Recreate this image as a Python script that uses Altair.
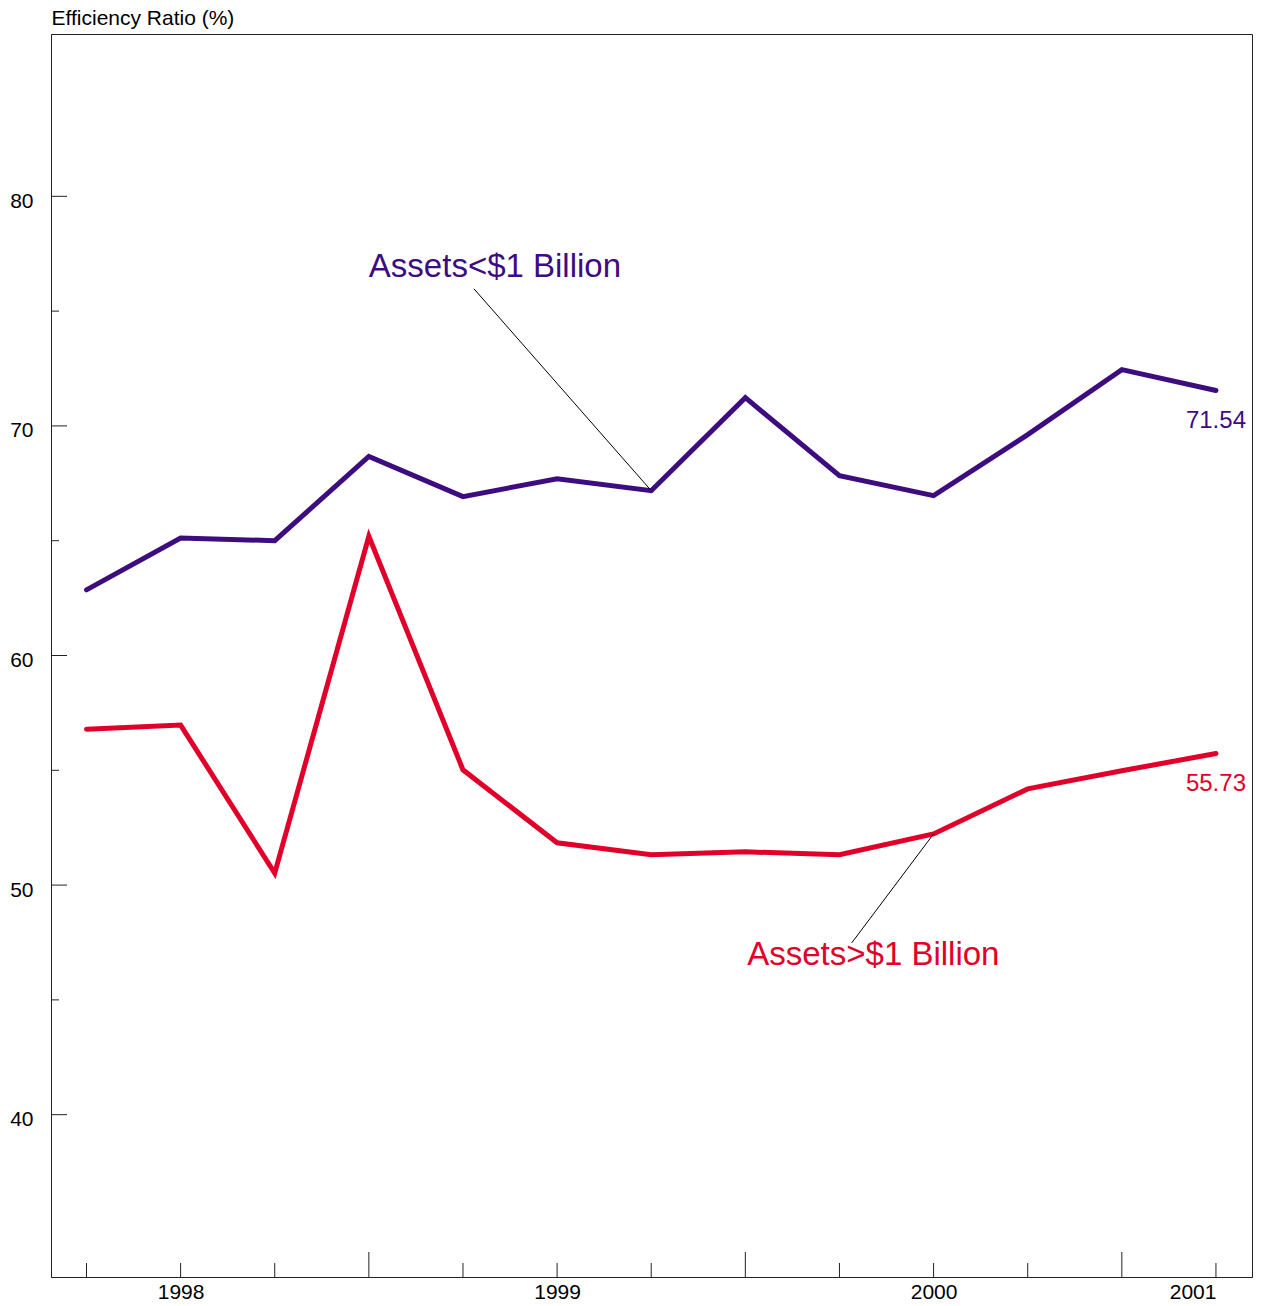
import altair as alt
import pandas as pd

# ---- data ----
quarters = list(range(13))  # quarterly positions
small_banks = [62.86, 65.12, 65.00, 68.67, 66.92, 67.70, 67.18, 71.23, 67.83, 66.96, 69.62, 72.45, 71.54]
large_banks = [56.79, 56.97, 50.52, 65.19, 55.02, 51.84, 51.32, 51.45, 51.32, 52.23, 54.19, 54.98, 55.73]
series_names = ["Assets<$1 Billion", "Assets>$1 Billion"]
series_colors = ["#3d0c7e", "#e0002a"]

year_tick_pos = [1, 5, 9, 12]
year_labels = ["1998", "1999", "2000", "2001"]
short_tick_pos = [0, 1, 2, 4, 5, 6, 8, 9, 10, 12]
long_tick_pos = [3, 7, 11]
y_major = [40, 50, 60, 70, 80]
y_minor = [45, 55, 65, 75]

# annotation anchors (label position and leader line ends)
ann_text = ["Assets<$1 Billion", "Assets>$1 Billion"]
ann_x = [3, 7.02]
ann_y = [76.49, 46.52]
lead_x1 = [4.117, 8.13]
lead_y1 = [75.97, 47.48]
lead_x2 = [6, 9]
lead_y2 = [67.18, 52.23]

W, H = 1201, 1243
XD = [-0.377, 12.383]
YD = [32.93, 87.07]

rows = []
for q, a, b in zip(quarters, small_banks, large_banks):
    rows.append({"q": q, "v": a, "s": series_names[0]})
    rows.append({"q": q, "v": b, "s": series_names[1]})
df = pd.DataFrame(rows)

xs = alt.Scale(domain=XD, nice=False, zero=False)
ys = alt.Scale(domain=YD, nice=False, zero=False)
cs = alt.Scale(domain=series_names, range=series_colors)

label_map = "{" + ",".join(f"'{p}':'{l}'" for p, l in zip(year_tick_pos, year_labels)) + "}"

lines = alt.Chart(df).mark_line(strokeWidth=5, strokeCap="round", strokeJoin="miter").encode(
    x=alt.X("q:Q", scale=xs, axis=alt.Axis(
        values=year_tick_pos, labelExpr=f"{label_map}[datum.value]", title=None,
        ticks=False, tickSize=0, grid=False, labelPadding=4, labelFontSize=21,
        labelColor="#000", domainColor="#222", labelBaseline="top",
        labelAlign={"expr": "datum.value == 12 ? 'right' : 'center'"})),
    y=alt.Y("v:Q", scale=ys, axis=alt.Axis(
        values=y_major, title="Efficiency Ratio (%)", ticks=False, tickSize=0, grid=False,
        labelPadding=18, labelFontSize=21, labelColor="#000", domainColor="#222",
        labelOffset=5, titleAngle=0, titleX=0, titleY=-10, titleAlign="left",
        titleBaseline="alphabetic", titleFontSize=21, titleFontWeight="normal",
        titleColor="#000")),
    color=alt.Color("s:N", scale=cs, legend=None),
)

short_ticks = alt.Chart(pd.DataFrame({"q": short_tick_pos})).mark_rule(color="#222", strokeWidth=1).encode(
    x=alt.X("q:Q", scale=xs), y=alt.value(H), y2=alt.value(H - 14))
long_ticks = alt.Chart(pd.DataFrame({"q": long_tick_pos})).mark_rule(color="#222", strokeWidth=1).encode(
    x=alt.X("q:Q", scale=xs), y=alt.value(H), y2=alt.value(H - 25))
major_y = alt.Chart(pd.DataFrame({"v": y_major})).mark_rule(color="#222", strokeWidth=1).encode(
    y=alt.Y("v:Q", scale=ys), x=alt.value(0), x2=alt.value(16))
minor_y = alt.Chart(pd.DataFrame({"v": y_minor})).mark_rule(color="#222", strokeWidth=1).encode(
    y=alt.Y("v:Q", scale=ys), x=alt.value(0), x2=alt.value(8))

lead_df = pd.DataFrame({"x1": lead_x1, "y1": lead_y1, "x2": lead_x2, "y2": lead_y2})
leaders = alt.Chart(lead_df).mark_rule(color="#000", strokeWidth=1).encode(
    x=alt.X("x1:Q", scale=xs), y=alt.Y("y1:Q", scale=ys), x2="x2:Q", y2="y2:Q")

ann_df = pd.DataFrame({"t": ann_text, "x": ann_x, "y": ann_y, "s": series_names})
ann = alt.Chart(ann_df).mark_text(align="left", baseline="alphabetic", fontSize=33).encode(
    x=alt.X("x:Q", scale=xs), y=alt.Y("y:Q", scale=ys), text="t:N",
    color=alt.Color("s:N", scale=cs, legend=None))

end_df = pd.DataFrame({"q": [quarters[-1]] * 2, "v": [small_banks[-1], large_banks[-1]],
                       "s": series_names,
                       "t": [f"{small_banks[-1]:.2f}", f"{large_banks[-1]:.2f}"]})
end_labels = alt.Chart(end_df).mark_text(align="center", baseline="alphabetic", fontSize=24, dy=37).encode(
    x=alt.X("q:Q", scale=xs), y=alt.Y("v:Q", scale=ys), text="t:N",
    color=alt.Color("s:N", scale=cs, legend=None))

chart = alt.layer(lines, short_ticks, long_ticks, major_y, minor_y, leaders, ann, end_labels).properties(
    width=W, height=H,
    autosize=alt.AutoSizeParams(type="none"),
    padding={"left": 43, "top": 26, "right": 4, "bottom": 26},
).configure(font="Liberation Sans").configure_view(stroke="#222", strokeWidth=1)

chart.save("out.html", embed_options={"renderer": "svg", "actions": False})
